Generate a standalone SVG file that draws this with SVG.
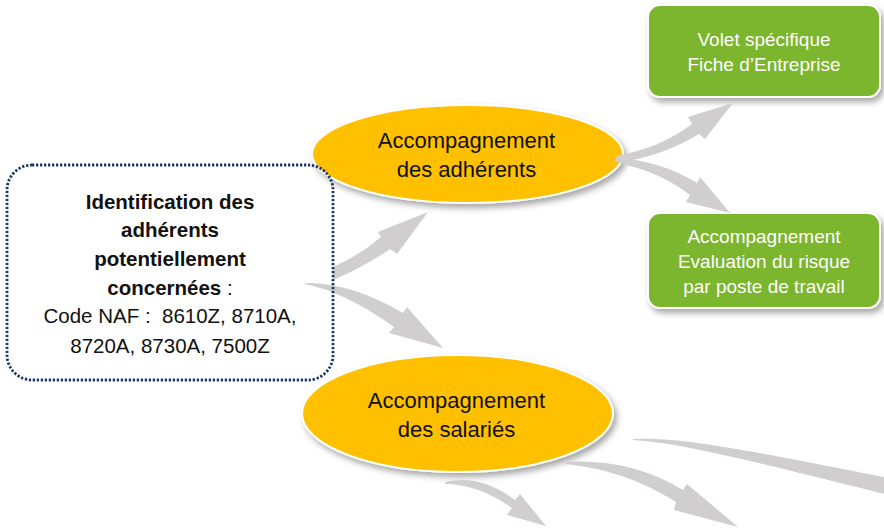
<svg xmlns="http://www.w3.org/2000/svg" width="884" height="528" viewBox="0 0 884 528">
<defs>
<filter id="sh" x="-20%" y="-20%" width="140%" height="150%">
<feDropShadow dx="3" dy="4" stdDeviation="3" flood-color="#000" flood-opacity="0.35"/>
</filter>
</defs>
<style>
.ell{fill:#ffc000;stroke:#fff;stroke-width:2;filter:url(#sh)}
.grn{fill:#7cb52f;stroke:#fff;stroke-width:2;filter:url(#sh)}
.arr{fill:#d0cece;stroke:none}
.t{font-family:"Liberation Sans",Arial,sans-serif;text-anchor:middle;white-space:pre}
.et{font-size:22px;fill:#111}
.gt{font-size:19px;fill:#fff}
.bt{font-size:20.5px;fill:#111}
.b{font-weight:bold}
</style>
<rect width="884" height="528" fill="#fff"/>
<g id="node-adherents">
<ellipse class="ell" cx="467.5" cy="154" rx="155.5" ry="49"/>
<text class="t et" x="466.5" y="148">Accompagnement</text>
<text class="t et" x="466.5" y="177">des adhérents</text>
</g>
<g id="node-salaries">
<ellipse class="ell" cx="457.5" cy="413.5" rx="155.5" ry="58.5"/>
<text class="t et" x="456.5" y="408">Accompagnement</text>
<text class="t et" x="456.5" y="437">des salariés</text>
</g>
<g id="node-fiche">
<rect class="grn" x="648" y="5" width="232" height="92" rx="12"/>
<text class="t gt" x="764" y="46">Volet spécifique</text>
<text class="t gt" x="764" y="71">Fiche d’Entreprise</text>
</g>
<g id="node-evaluation">
<rect class="grn" x="648" y="213" width="232" height="95" rx="12"/>
<text class="t gt" x="764" y="243">Accompagnement</text>
<text class="t gt" x="764" y="268">Evaluation du risque</text>
<text class="t gt" x="764" y="293">par poste de travail</text>
</g>
<g id="connectors">
<path class="arr" d="M333 267 Q360 255 381 237 L378 232 L428 212 L397 254 L390 249 Q362 268 333 280 Z"/>
<path class="arr" d="M305 283 Q350 282 403 313 L407 307 L443 348 L389 333 L394 327 Q345 292 305 284 Z"/>
<path class="arr" d="M614 158 L620 155 Q660 148 692 124 L688 117 L733 103 L705 139 L699 134 Q665 155 622 162 Z"/>
<path class="arr" d="M614 161 L622 158 Q665 163 697 183 L700 177 L730 213 L686 202 L690 195 Q660 172 622 164 Z"/>
<path class="arr" d="M445 482 Q480 474 515 500 L520 494 L546 526 L507 515 L512 508 Q478 484 445 484 Z"/>
<path class="arr" d="M565 462 Q630 458 683 490 L687 484 L738 527 L674 510 L676 502 Q625 470 566 464 Z"/>
<path class="arr" d="M633 439 C670 437 720 444 884 477 L884 494 C740 458 680 443 633 440 Z"/>
</g>
<g id="node-identification">
<rect x="7" y="165" width="326" height="215" rx="25" fill="none" stroke="#1f3864" stroke-width="2.8" stroke-dasharray="2.3 1.7"/>
<text class="t bt b" x="170" y="209">Identification des</text>
<text class="t bt b" x="170" y="237">adhérents</text>
<text class="t bt b" x="170" y="266">potentiellement</text>
<text class="t bt" x="170" y="295"><tspan class="b">concernées</tspan> :</text>
<text class="t bt" x="170" y="323">Code NAF :  8610Z, 8710A,</text>
<text class="t bt" x="170" y="353">8720A, 8730A, 7500Z</text>
</g>
</svg>
